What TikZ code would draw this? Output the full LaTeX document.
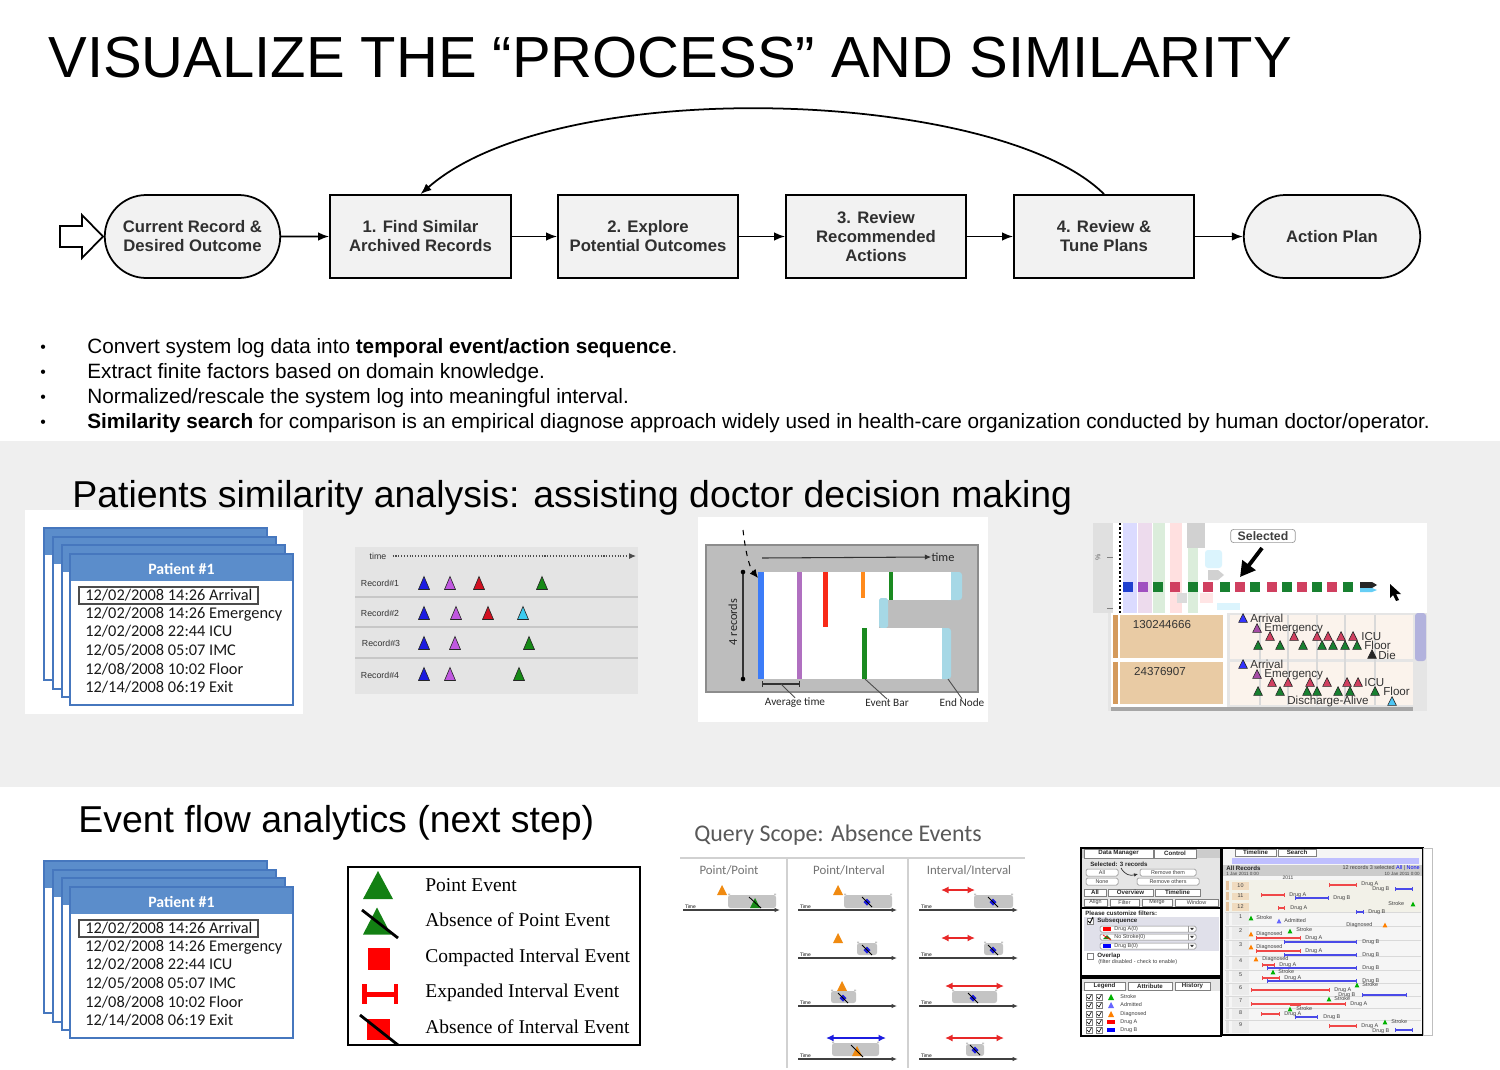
\documentclass[tikz,border=0pt]{standalone}
\usepackage{fontspec}
\setmainfont{Liberation Sans}
\newfontfamily\calfont{Carlito}
\newfontfamily\serfont{Liberation Serif}
\usetikzlibrary{arrows.meta,shapes.misc}

\definecolor{band}{HTML}{EFEFEF}
\definecolor{flowfill}{HTML}{F2F2F2}
\definecolor{flowtext}{HTML}{303030}
\definecolor{cardblue}{HTML}{5B8DCB}
\definecolor{cardedge}{HTML}{4677BE}
\definecolor{tlbg}{HTML}{E4E4E4}
\definecolor{tblue}{HTML}{1C1CE0}
\definecolor{tpurple}{HTML}{C058E0}
\definecolor{tred}{HTML}{D01020}
\definecolor{tgreen}{HTML}{168A16}
\definecolor{tcyan}{HTML}{3CCBEF}
\definecolor{barblue}{HTML}{3C7CF8}
\definecolor{barpurple}{HTML}{B070C0}
\definecolor{barred}{HTML}{F82A18}
\definecolor{barorange}{HTML}{FF8A1C}
\definecolor{bargreen}{HTML}{1A8A20}
\definecolor{endnode}{HTML}{A6D8E6}
\definecolor{qorange}{HTML}{F08A10}
\definecolor{qred}{HTML}{E82828}
\definecolor{qgray}{HTML}{C4C4C4}
\definecolor{drugared}{HTML}{F04848}
\definecolor{drugbblue}{HTML}{4A4AE8}
\definecolor{sqblue}{HTML}{2040D0}
\definecolor{sqpurple}{HTML}{A050C0}
\definecolor{sqgreen}{HTML}{188030}
\definecolor{sqpink}{HTML}{D04060}
\definecolor{tan}{HTML}{E9CBA4}
\definecolor{tanedge}{HTML}{D49A5C}
\definecolor{rowbg}{HTML}{FBF3EC}
\definecolor{lggreen}{HTML}{138013}

\newcommand\fsz[2]{\fontsize{#1}{#2}\selectfont}
% triangle with outline: x, y, half width, half height, colour
\newcommand\evtri[5]{\filldraw[draw=black!85,line width=0.35pt,fill=#5] ({#1-#3},{#2+#4}) -- ({#1+#3},{#2+#4}) -- (#1,{#2-#4}) -- cycle;}
% triangle without outline
\newcommand\plaintri[5]{\fill[#5] ({#1-#3},{#2+#4}) -- ({#1+#3},{#2+#4}) -- (#1,{#2-#4}) -- cycle;}
% time axis of a query sketch: x1, x2, y
\newcommand\qaxis[3]{\draw[black!75,line width=0.6pt,-{Latex[length=1.1mm,width=0.9mm]}] (#1,#3) -- (#2,#3);
  \node[anchor=south west,inner sep=0.4pt,font=\fsz{2.8pt}{3pt}] at ({#1+1},#3) {Time};}
% grey query window with raised rims
\newcommand\qtray[4]{\fill[qgray,rounded corners=1.4pt] (#1,#2) rectangle (#3,#4);
  \fill[qgray] (#1,{#2-1.5}) rectangle ({#1+2},#2) ({#3-2},{#2-1.5}) rectangle (#3,#2);}
% absent interval marker
\newcommand\qblue[2]{\fill[tblue] ({#1-3.5},#2) -- (#1,{#2-3.5}) -- ({#1+3.5},#2) -- (#1,{#2+3.5}) -- cycle;
  \draw[black,line width=0.5pt] ({#1-5},{#2-5}) -- ({#1+5},{#2+5});}

% stacked patient record card
\newcommand\patientcard[2]{%
\begin{scope}[yshift=#2]
\foreach \cx/\cy in {44/528,53/537,62/545}{
  \draw[cardedge,line width=1.1pt,fill=white] (\cx,\cy) rectangle ++(223,152);
  \fill[cardblue] (\cx,\cy) rectangle ++(223,27);
  \draw[cardedge,line width=1.1pt] (\cx,\cy) rectangle ++(223,152);
}
\draw[cardedge,line width=1.1pt,fill=white] (70,554) rectangle (293,705);
\fill[cardblue] (70,554) rectangle (293,581);
\draw[cardedge,line width=1.1pt] (70,554) rectangle (293,705);
\node[cardhead] (#1head) at (181.5,569) {Patient \#1};
\node[cardrow] (#1r1) at (85,600.5) {12/02/2008 14:26 Arrival};
\node[cardrow] (#1r2) at (85,618.5) {12/02/2008 14:26 Emergency};
\node[cardrow] (#1r3) at (85,636.5) {12/02/2008 22:44 ICU};
\node[cardrow] (#1r4) at (85,655.5) {12/05/2008 05:07 IMC};
\node[cardrow] (#1r5) at (85,674.5) {12/08/2008 10:02 Floor};
\node[cardrow] (#1r6) at (85,692.5) {12/14/2008 06:19 Exit};
\draw[black!70,line width=0.7pt] (79,587) rectangle (258,604);
\end{scope}}

\begin{document}
\begin{tikzpicture}[x=0.02cm,y=-0.02cm,
  flowbox/.style={draw=black,line width=1pt,fill=flowfill,text=flowtext,font=\bfseries\fsz{9.5pt}{10.8pt},
    align=center,minimum width=3.6cm,minimum height=1.66cm,inner sep=1pt},
  stadium/.style={flowbox,rounded rectangle},
  conn/.style={line width=1pt,-{Latex[length=2.2mm,width=1.7mm]}},
  bullet/.style={anchor=base west,inner sep=0pt,font=\fsz{11.8pt}{14pt}},
  heading/.style={anchor=base west,inner sep=0pt,font=\fsz{21.3pt}{25pt}},
  cardhead/.style={text=white,font=\calfont\bfseries\fsz{9pt}{10pt},inner sep=0pt},
  cardrow/.style={anchor=base west,inner sep=0pt,text=black!90,font=\calfont\fsz{9.3pt}{10pt}},
  reclabel/.style={inner sep=0pt,font=\fsz{5pt}{6pt},text=black!80},
  smallcal/.style={inner sep=0pt,font=\calfont\fsz{6.4pt}{7pt},text=black!85},
  lgtext/.style={anchor=base west,inner sep=0pt,font=\serfont\fsz{11.1pt}{13pt}},
  qhead/.style={inner sep=0pt,font=\calfont\fsz{7.3pt}{8pt},text=black!55},
  dm/.style={inner sep=0pt,font=\fsz{3.1pt}{3.5pt},text=black!75},
  dmb/.style={dm,font=\bfseries\fsz{3.5pt}{4pt},text=black!85},
  dmtab/.style={draw=black!50,fill=white,line width=0.3pt},
  redspan/.style={draw=drugared,line width=0.6pt,{Bar[width=2.4pt]}-{Bar[width=2.4pt]}},
  bluespan/.style={draw=drugbblue,line width=0.6pt,{Bar[width=2.4pt]}-{Bar[width=2.4pt]}},
  seltext/.style={inner sep=0pt,font=\fsz{6.6pt}{7pt},text=black!80}]

\useasboundingbox (0,0) rectangle (1500,1069);
\fill[white] (0,0) rectangle (1500,1069);
\fill[band] (0,441) rectangle (1500,787);

% ---------- title ----------
\node[anchor=base west,inner sep=0pt,font=\fsz{33pt}{38pt}] (title) at (48,77)
  {VISUALIZE THE \char"201CPROCESS\char"201D\ AND SIMILARITY};

% ---------- process flow ----------
\node[stadium,minimum width=3.58cm] (cur) at (192.5,236.5) {Current Record \&\\Desired Outcome};
\node[flowbox,minimum width=3.62cm] (n1) at (420.5,236.5) {1. Find Similar\\Archived Records};
\node[flowbox] (n2) at (648,236.5) {2. Explore\\Potential Outcomes};
\node[flowbox] (n3) at (876,236.5) {3. Review\\Recommended\\Actions};
\node[flowbox] (n4) at (1104,236.5) {4. Review \&\\Tune Plans};
\node[stadium] (ap) at (1332,236.5) {Action Plan};
\draw[line width=1pt,fill=white] (60,226) -- (82,226) -- (82,215) -- (103,236.5) -- (82,258) -- (82,247) -- (60,247) -- cycle;
\draw[conn] (cur) -- (n1);
\draw[conn] (n1) -- (n2);
\draw[conn] (n2) -- (n3);
\draw[conn] (n3) -- (n4);
\draw[conn] (n4) -- (ap);
\draw[conn] (n4.north) .. controls (1000,90) and (560,72) .. (n1.north);

% ---------- bullet list ----------
\foreach \yy in {353,378,403,428}{\node[bullet,font=\fsz{9pt}{10pt}] at (40,{\yy-1}) {\char"2022};}
\node[bullet] (b1) at (87,353) {Convert system log data into \textbf{temporal event/action sequence}.};
\node[bullet] (b2) at (87,378) {Extract finite factors based on domain knowledge.};
\node[bullet] (b3) at (87,403) {Normalized/rescale the system log into meaningful interval.};
\node[bullet] (b4) at (87,428) {\textbf{Similarity search} for comparison is an empirical diagnose approach widely used in health-care organization conducted by human doctor/operator.};

% ---------- patients similarity section ----------
\node[heading] (h1) at (72,507) {Patients similarity analysis: assisting doctor decision making};
\fill[white] (25,510) rectangle (303,714);
\patientcard{pa}{0cm}

% record timelines
\fill[tlbg] (355,547) rectangle (638,694);
\node[reclabel] (tltime) at (378,556) {time};
\coordinate (tlend) at (636,556);
\draw[black!70,densely dotted,line width=0.6pt,-{Latex[length=1.4mm,width=1.2mm]}] (tltime.east) ++(6,0) -- (tlend);
\foreach \yy in {597,627,658}{\draw[black!22,line width=1.2pt] (355,\yy) -- (638,\yy);}
\node[reclabel] (rc1) at (380,583) {Record\#1};
\node[reclabel] (rc2) at (380,613) {Record\#2};
\node[reclabel] (rc3) at (381,643) {Record\#3};
\node[reclabel] (rc4) at (380,675) {Record\#4};
\foreach \xx/\yy/\cc in {424/583/tblue,450/583/tpurple,479/583/tred,542/583/tgreen,
  424/613/tblue,456/613/tpurple,488/613/tred,523/613/tcyan,
  424/643/tblue,455/643/tpurple,529/643/tgreen,
  424/674/tblue,450/674/tpurple,519/674/tgreen}{\evtri{\xx}{\yy}{5.5}{6.5}{\cc}}

% event bar overview
\fill[white] (698,517) rectangle (988,722);
\filldraw[fill=black!26,draw=black!45,line width=0.8pt] (706,545) rectangle (978,692);
\fill[endnode,rounded corners=1.7pt] (945,572) rectangle (962,600);
\fill[white] (758,572) rectangle (951,600);
\fill[endnode,rounded corners=1.1pt] (879,598) rectangle (888,628);
\fill[white] (758,600) rectangle (879,628);
\fill[endnode,rounded corners=1.7pt] (936,628) rectangle (951,679);
\fill[white] (758,628) rectangle (942,679);
\fill[barblue] (758,572) rectangle (764,679);
\fill[barpurple] (797,572) rectangle (802,679);
\fill[barred] (823,572) rectangle (828,627);
\fill[barorange] (861,572) rectangle (865,598);
\fill[bargreen] (889,572) rectangle (893,600);
\fill[bargreen] (862,628) rectangle (867,679);
\node[smallcal,font=\calfont\fsz{7pt}{8pt}] (ebtime) at (943,557) {time};
\coordinate (ebstart) at (762,558);
\draw[black!80,line width=0.6pt,-{Latex[length=1.3mm,width=1.1mm]}] (ebstart) -- (ebtime.west);
\node[smallcal,rotate=90,font=\calfont\fsz{7pt}{8pt}] (ebrec) at (733,622) {4 records};
\coordinate (ebtop) at (743,572);
\coordinate (ebbot) at (743,679);
\draw[black!80,line width=0.6pt] (ebtop) -- (ebbot);
\fill (ebtop) circle (2.3) (ebbot) circle (2.3);
\coordinate (ebdash) at (743,530);
\coordinate (ebhit) at (758,578);
\draw[black,line width=0.6pt,dashed,-{Latex[length=1.7mm,width=1.5mm]}] (ebdash) .. controls (746,556) and (750,568) .. (ebhit);
\coordinate (avl) at (762,684);
\coordinate (avr) at (800,684);
\draw[black!80,line width=0.6pt,{Bar[width=1.2mm]}-{Bar[width=1.2mm]}] (avl) -- (avr);
\node[smallcal] (avg) at (795,703) {Average time};
\node[smallcal] (evb) at (887,703) {Event Bar};
\node[smallcal] (endn) at (962,703) {End Node};
\draw[black!70,line width=0.5pt] (781,684) -- (avg.north);
\draw[black!70,line width=0.5pt] (865,679) -- (evb.north);
\draw[black!70,line width=0.5pt] (948,679) -- (endn.north);

% selected record view
\fill[white] (1093,523) rectangle (1427,613);
\fill[black!12] (1093,523) rectangle (1113,613);
\draw[black!50,line width=0.5pt] (1107,557) -- (1113,557) (1107,608) -- (1113,608);
\node[inner sep=0pt,rotate=90,font=\fsz{4pt}{5pt},text=black!60] (pct) at (1098,557) {\%};
\fill[blue!14] (1123,523) rectangle (1137,613);
\fill[violet!14] (1138,523) rectangle (1152,613);
\fill[green!50!black!14] (1153,523) rectangle (1165,613);
\fill[red!12] (1170,523) rectangle (1182,613);
\fill[black!18] (1187,523) rectangle (1205,548);
\fill[green!50!black!14] (1188,548) rectangle (1198,613);
\fill[cyan!14,rounded corners=1.7pt] (1205,550) rectangle (1222,568);
\fill[black!18] (1208,570) rectangle (1218,580) -- (1224,575) -- (1218,570);
\fill[black!14] (1177,593) rectangle (1187,603);
\fill[red!10] (1200,593) rectangle (1213,603);
\fill[cyan!14] (1217,603) rectangle (1240,610);
\draw[line width=1.25pt,dash pattern=on 1.25pt off 1.25pt] (1120,523) -- (1120,613);
\foreach \xx/\cc in {1128/sqblue,1143/sqpurple,1158/sqgreen,1175/sqpink,1193/sqgreen,1208/sqpink,
  1225/sqgreen,1240/sqpink,1255/sqgreen,1272/sqpink,1287/sqgreen,1302/sqpink,1317/sqgreen,1332/sqpink,1348/sqgreen}
  {\fill[\cc] ({\xx-5},582) rectangle ({\xx+5},592);}
\fill[black!85] (1360,582) -- (1372,582) -- (1377,585) -- (1372,588) -- (1360,588) -- cycle;
\fill[cyan!60] (1360,588) -- (1372,588) -- (1377,590) -- (1372,592) -- (1360,592) -- cycle;
\node[draw=black!40,fill=white,rounded corners=1.7pt,inner xsep=4pt,inner ysep=1.2pt,
  font=\bfseries\fsz{7pt}{8pt},text=black!75] (selbox) at (1263,536) {Selected};
\coordinate (selhit) at (1240,577);
\draw[line width=2.2pt,-{Triangle[length=3mm,width=3.2mm]}] (1262,548) -- (selhit);
\fill[black] (1390,584) -- (1390,598) -- (1393,595) -- (1396,601) -- (1399,600) -- (1396,594) -- (1401,594) -- cycle;
% record table
\fill[black!10] (1108,613) rectangle (1427,711);
\fill[white] (1111,613) rectangle (1227,711);
\fill[tanedge] (1113,615) rectangle (1118,658);
\fill[tanedge] (1113,662) rectangle (1118,704);
\fill[tan] (1120,615) rectangle (1223,658);
\fill[tan] (1120,662) rectangle (1223,704);
\fill[rowbg] (1230,615) rectangle (1413,659);
\fill[rowbg] (1230,662) rectangle (1413,705);
\foreach \xx in {1260,1288,1317,1345,1375}{\draw[black!15,line width=0.6pt] (\xx,615) -- (\xx,705);}
\fill[black!35] (1111,707) rectangle (1413,711);
\fill[black!45!blue!30,rounded corners=1.7pt] (1415,613) rectangle (1426,661);
\node[seltext] (id1) at (1162,624) {130244666};
\node[seltext] (id2) at (1160,671) {24376907};
\foreach \ro in {0,46}{
  \begin{scope}[yshift=-\ro*0.02cm]
  \evtri{1243}{618}{4.3}{4.3}{blue!80}
  \evtri{1257}{628}{4.3}{4.3}{violet!70}
  \end{scope}}
\node[seltext,anchor=west] at (1250,618) {Arrival};
\node[seltext,anchor=west] at (1264,629) {Emergency};
\node[seltext,anchor=west] at (1250,664) {Arrival};
\node[seltext,anchor=west] at (1264,675) {Emergency};
\foreach \xx in {1270,1294,1317,1328,1341,1353}{\evtri{\xx}{636}{4.3}{4.3}{sqpink}}
\foreach \xx in {1258,1280,1303,1322,1333,1345,1357}{\evtri{\xx}{645}{4.3}{4.3}{sqgreen}}
\evtri{1372}{654}{4.3}{4.3}{black!85}
\node[seltext,anchor=west] at (1361,636) {ICU};
\node[seltext,anchor=west] at (1364,645.5) {Floor};
\node[seltext,anchor=west] at (1378,655) {Die};
\foreach \xx in {1272,1288,1310,1327,1347,1358}{\evtri{\xx}{682}{4.3}{4.3}{sqpink}}
\foreach \xx in {1258,1280,1307,1317,1338,1350,1375}{\evtri{\xx}{691}{4.3}{4.3}{sqgreen}}
\node[seltext,anchor=west] at (1364,682) {ICU};
\node[seltext,anchor=west] at (1383,691.5) {Floor};
\node[seltext,anchor=west] at (1287,701) {Discharge-Alive};
\evtri{1392}{701}{4.3}{4.3}{cyan!70}

% ---------- event flow section ----------
\node[heading] (h2) at (78,832) {Event flow analytics (next step)};
\patientcard{pb}{-6.66cm}

% legend of glyphs
\draw[line width=0.8pt] (348,867) rectangle (640,1045);
\plaintri{378}{885}{15}{14}{lggreen}
\plaintri{377}{921}{14}{13.5}{lggreen}
\draw[line width=1.6pt] (362,910) -- (398,938);
\fill[red] (368,948) rectangle (390,970);
\fill[red] (364,992) rectangle (396,996.5);
\fill[red] (362,984) rectangle (366.5,1004);
\fill[red] (393.5,984) rectangle (398,1004);
\fill[red] (367,1019) rectangle (390,1040);
\draw[line width=1.6pt] (360,1015) -- (398,1045);
\node[lgtext] (lg1) at (425,891) {Point Event};
\node[lgtext] (lg2) at (425,926) {Absence of Point Event};
\node[lgtext] (lg3) at (425,962) {Compacted Interval Event};
\node[lgtext] (lg4) at (425,997) {Expanded Interval Event};
\node[lgtext] (lg5) at (425,1033) {Absence of Interval Event};

% query scope sketches
\node[anchor=base west,inner sep=0pt,font=\calfont\fsz{13.6pt}{15pt},text=black!65] (qs) at (694,841) {Query Scope: Absence Events};
\draw[black!18,line width=0.8pt] (680,858) -- (1025,858);
\draw[black!18,line width=0.8pt] (787,858) -- (787,1068) (908,858) -- (908,1068);
\node[qhead] (qh1) at (729,870) {Point/Point};
\node[qhead] (qh2) at (849,870) {Point/Interval};
\node[qhead] (qh3) at (969,870) {Interval/Interval};
% point / point
\qaxis{683}{780}{910}
\plaintri{722}{890}{5}{5}{qorange}
\qtray{728}{895}{776}{908}
\plaintri{755}{903}{5}{5}{tgreen}
\draw[black,line width=0.5pt] (749,897) -- (761,908);
% point / interval
\qaxis{798}{897}{910}
\plaintri{838}{890}{5}{5}{qorange}
\qtray{844}{895}{892}{908}
\qblue{867}{902}
\qaxis{798}{897}{958}
\plaintri{838}{938}{5}{5}{qorange}
\qtray{857}{943}{877}{955}
\qblue{867}{950}
\qaxis{798}{897}{1006}
\plaintri{842}{986}{5}{5}{qorange}
\qtray{831}{991}{856}{1003}
\qblue{843}{998}
\qaxis{798}{897}{1059}
\draw[tblue,line width=1pt,{Latex[length=1.5mm,width=1.4mm]}-{Latex[length=1.5mm,width=1.4mm]}] (826,1038) -- (886,1038);
\qtray{832}{1043}{879}{1056}
\plaintri{857}{1051}{5}{5}{qorange}
\draw[black,line width=0.5pt] (851,1045) -- (863,1057);
% interval / interval
\qaxis{919}{1018}{910}
\draw[qred,line width=1pt,{Latex[length=1.5mm,width=1.4mm]}-{Latex[length=1.5mm,width=1.4mm]}] (941,890) -- (975,890);
\qtray{974}{895}{1013}{908}
\qblue{993}{902}
\qaxis{919}{1018}{958}
\draw[qred,line width=1pt,{Latex[length=1.5mm,width=1.4mm]}-{Latex[length=1.5mm,width=1.4mm]}] (941,938) -- (975,938);
\qtray{984}{943}{1003}{955}
\qblue{993}{950}
\qaxis{919}{1018}{1006}
\draw[qred,line width=1pt,{Latex[length=1.5mm,width=1.4mm]}-{Latex[length=1.5mm,width=1.4mm]}] (945,986) -- (1004,986);
\qtray{952}{991}{997}{1003}
\qblue{973}{998}
\qaxis{919}{1018}{1059}
\draw[qred,line width=1pt,{Latex[length=1.5mm,width=1.4mm]}-{Latex[length=1.5mm,width=1.4mm]}] (945,1038) -- (1004,1038);
\qtray{966}{1044}{984}{1056}
\qblue{975}{1050}

% ---------- event flow tool panels ----------
\fill[black!10] (1080,847) rectangle (1222,1036);
% control panel
\fill[black!20] (1081,848) rectangle (1221,858);
\filldraw[dmtab] (1084,849) rectangle (1153,858);
\filldraw[dmtab] (1154,849) rectangle (1196,858);
\node[dmb] (dmt1) at (1118.5,853.5) {Data Manager};
\node[dmb] (dmt2) at (1175,853.5) {Control};
\node[dmb,anchor=west] (dmsel) at (1090,864) {Selected: 3 records};
\filldraw[dmtab,rounded corners=0.85pt] (1086,869) rectangle (1118,876);
\filldraw[dmtab,rounded corners=0.85pt] (1086,878) rectangle (1118,885);
\filldraw[dmtab,rounded corners=0.85pt] (1140,869) rectangle (1196,876);
\filldraw[dmtab,rounded corners=0.85pt] (1137,878) rectangle (1199,885);
\node[dm] (btall) at (1102,872.5) {All};
\node[dm] (btnone) at (1102,881.5) {None};
\node[dm] (btrm) at (1168,872.5) {Remove them};
\node[dm] (btro) at (1168,881.5) {Remove others};
\draw[black!80,line width=0.4pt,-{Latex[length=0.8mm,width=0.7mm]}] (1121,868) .. controls (1125,875) and (1130,876) .. (1138,874);
\foreach \xa/\xb/\tt in {1084/1106/All,1108/1153/Overview,1155/1200/Timeline}
  {\filldraw[dmtab] (\xa,889) rectangle (\xb,896); \node[dmb] at ({(\xa+\xb)/2},892.5) {\tt};}
\foreach \xa/\xb/\tt in {1084/1107/Align,1110/1139/Filter,1142/1172/Merge,1175/1218/Window}
  {\filldraw[dmtab] (\xa,899) rectangle (\xb,906); \node[dm] at ({(\xa+\xb)/2},902.5) {\tt};}
\draw[line width=1.2pt] (1081,848) rectangle (1221,908);
% filter panel
\fill[white] (1082,909) rectangle (1220,975);
\node[dmb,anchor=west] (dmflt) at (1085,913) {Please customize filters:};
\fill[blue!30!black!12] (1084,917) rectangle (1219,951);
\filldraw[dmtab] (1087,918) rectangle (1093,924);
\draw[black,line width=0.5pt] (1088,921) -- (1090,923) -- (1093,917);
\node[dmb,anchor=west] (dmsub) at (1097,921) {Subsequence};
\foreach \yy/\tt in {929/{Drug A(0)},937/{No Stroke(0)},946/{Drug B(0)}}{
  \filldraw[dmtab,rounded corners=0.85pt] (1100,{\yy-3}) rectangle (1196,{\yy+3});
  \node[dm,anchor=west] at (1114,\yy) {\tt};
  \draw[black!40,line width=0.3pt] (1188,{\yy-3}) -- (1188,{\yy+3});
  \fill[black!80] (1190,{\yy-1.2}) -- (1194,{\yy-1.2}) -- (1192,{\yy+1.2}) -- cycle;}
\fill[red] (1103,927) rectangle (1111,931);
\fill[tgreen] (1103,939) -- (1111,939) -- (1107,935) -- cycle;
\draw[red,line width=0.4pt] (1103,935) -- (1111,940);
\fill[blue] (1103,944) rectangle (1111,948);
\filldraw[dmtab] (1087,953) rectangle (1093,959);
\node[dmb,anchor=west] (dmovl) at (1097,956) {Overlap};
\node[dm,anchor=west] (dmdis) at (1098,962.5) {(filter disabled - check to enable)};
\draw[line width=1.3pt] (1081,908) rectangle (1221,976);
% legend panel
\fill[white] (1082,991) rectangle (1220,1035);
\foreach \xa/\xb/\tt in {1084/1125/Legend,1128/1172/Attribute,1175/1210/History}
  {\filldraw[dmtab] (\xa,982) rectangle (\xb,990); \node[dmb] at ({(\xa+\xb)/2},986) {\tt};}
\foreach \yy in {997,1005,1014,1022,1030}{
  \filldraw[dmtab] (1086,{\yy-2.8}) rectangle (1092,{\yy+2.8});
  \filldraw[dmtab] (1096,{\yy-2.8}) rectangle (1102,{\yy+2.8});
  \draw[black,line width=0.35pt] (1087,\yy) -- (1089,{\yy+2}) -- (1091.5,{\yy-2.3});
  \draw[black,line width=0.35pt] (1097,\yy) -- (1099,{\yy+2}) -- (1101.5,{\yy-2.3});}
\plaintri{1111}{997}{3}{3}{green!70!black}
\plaintri{1111}{1005}{3}{3}{blue!60}
\plaintri{1111}{1014}{3}{3}{orange}
\fill[red] (1107,1020) rectangle (1115,1024);
\fill[blue] (1107,1028) rectangle (1115,1032);
\node[dm,anchor=west] at (1120,997) {Stroke};
\node[dm,anchor=west] at (1120,1005) {Admitted};
\node[dm,anchor=west] at (1120,1014) {Diagnosed};
\node[dm,anchor=west] at (1120,1022) {Drug A};
\node[dm,anchor=west] at (1120,1030) {Drug B};
\draw[line width=1.3pt] (1081,978) rectangle (1221,1036);

% timeline panel
\fill[black!4] (1222,848) rectangle (1423,1035);
\filldraw[dmtab] (1235,849) rectangle (1276,856);
\filldraw[dmtab] (1278,849) rectangle (1316,856);
\node[dmb] (tlt1) at (1255.5,852.5) {Timeline};
\node[dmb] (tlt2) at (1297,852.5) {Search};
\fill[blue!25] (1232,858) rectangle (1419,864);
\fill[black!20] (1222,865) rectangle (1423,876);
\node[dmb,anchor=west] (allrec) at (1226,868) {All Records};
\node[dm,anchor=east] (recsel) at (1420,868) {12 records 3 selected \textcolor{blue}{All} | \textcolor{blue}{None}};
\node[dm,anchor=west,font=\fsz{2.6pt}{3pt}] at (1226,873.5) {1 Jan 2011 0:00};
\node[dm,anchor=east,font=\fsz{2.6pt}{3pt}] at (1420,873.5) {10 Jan 2011 0:00};
\node[dm,font=\fsz{2.8pt}{3pt}] at (1288,878) {2011};
\fill[yellow!40!black!10] (1225,880) rectangle (1421,912);
\foreach \ya/\yb/\nn in {880/891/10,891/901/11,901/912/12}
  {\fill[tanedge!60] (1226,{\ya+1}) rectangle (1229,{\yb-1});
   \fill[tan!70] (1232,{\ya+1.5}) rectangle (1249,{\yb-1.5});
   \node[dm] at (1240.5,{(\ya+\yb)/2}) {\nn};}
\foreach \ya/\yb/\nn in {912/926/1,926/940/2,940/956/3,956/970/4,970/983/5,983/996/6,996/1008/7,1008/1020/8,1020/1034/9}
  {\draw[black!15,line width=0.4pt] (1225,\ya) -- (1421,\ya);
   \fill[black!12] (1226,{\ya+1}) rectangle (1229,{\yb-1});
   \fill[black!8] (1232,{\ya+1}) rectangle (1249,{\yb-1});
   \node[dm] at (1240.5,{\ya+5}) {\nn};}
% red = Drug A, blue = Drug B intervals
\foreach \xa/\xb/\yy in {1329/1357/885,1261/1285/895,1278/1285/908,1256/1301/938,1256/1301/951,1262/1275/965,
  1262/1280/978,1251/1330/990,1251/1346/1004,1261/1280/1014,1329/1357/1026}{\draw[redspan] (\xa,\yy) -- (\xb,\yy);}
\fill[drugared] (1290,1002.5) rectangle (1301,1005.5);
\foreach \xa/\xb/\yy in {1395/1413/889,1295/1329/898,1356/1364/912,1284/1357/942,1284/1357/955,1267/1357/968,
  1267/1357/981,1362/1407/995,1295/1318/1017,1395/1413/1030}{\draw[bluespan] (\xa,\yy) -- (\xb,\yy);}
\foreach \xx/\yy in {1413/904,1251/918,1290/931,1273/972,1357/985,1329/999,1290/1009,1385/1022}{\plaintri{\xx}{\yy}{2.4}{2.4}{green!70!black}}
\plaintri{1279}{921}{2.4}{2.4}{blue!60}
\foreach \xx/\yy in {1385/925,1251/934,1251/947,1256/959}{\plaintri{\xx}{\yy}{2.4}{2.4}{orange}}
\foreach \xx/\yy/\tt in {1361/884.5/{Drug A},1372/889.5/{Drug B},1289/895/{Drug A},1333/898/{Drug B},1290/908/{Drug A},
  1388/904/{Stroke},1368/912/{Drug B},1256/918/{Stroke},1284/921/{Admitted},1346/925/{Diagnosed},
  1256/934.5/{Diagnosed},1296/930/{Stroke},1305/938.5/{Drug A},1362/942/{Drug B},
  1256/947/{Diagnosed},1305/951/{Drug A},1362/955/{Drug B},
  1262/959/{Diagnosed},1279/965/{Drug A},1362/968/{Drug B},
  1278/972/{Stroke},1284/978/{Drug A},1362/981/{Drug B},
  1362/985/{Stroke},1334/990/{Drug A},1338/995.5/{Drug B},
  1334/999/{Stroke},1350/1004.5/{Drug A},
  1296/1009/{Stroke},1284/1014.5/{Drug A},1323/1017.5/{Drug B},
  1391/1022/{Stroke},1361/1026.5/{Drug A},1372/1031/{Drug B}}{\node[dm,anchor=west] at (\xx,\yy) {\tt};}
\draw[line width=1.3pt] (1222,848) rectangle (1423,1035);
\draw[black!25,line width=0.5pt] (1423,848) rectangle (1432,1035);

\end{tikzpicture}
\end{document}
